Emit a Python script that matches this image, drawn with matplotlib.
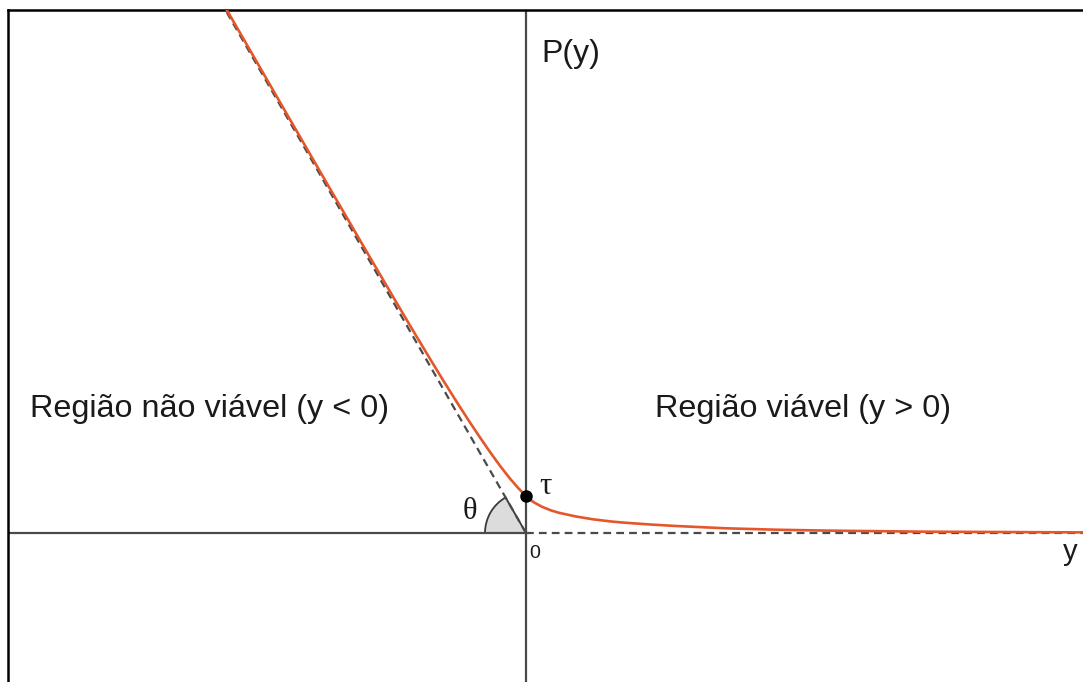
import numpy as np
import matplotlib
matplotlib.use('Agg')
import matplotlib.pyplot as plt
from matplotlib.patches import Wedge

# penalty curve P(y) (1 unit = 100 px)
y_vals = [-3.10, -2.50, -2.00, -1.60, -1.28, -1.12, -0.96, -0.86, -0.76, -0.66, -0.56,
          -0.46, -0.36, -0.26, -0.16, -0.08, -0.04, 0.00,
          0.04, 0.08, 0.16, 0.25, 0.33, 0.50, 0.67, 0.85, 1.00, 1.25, 1.50,
          2.00, 2.50, 3.00, 4.00, 5.60]
p_vals = [5.418, 4.377, 3.512, 2.824, 2.278, 2.008, 1.742, 1.578, 1.417, 1.259, 1.105,
          0.955, 0.810, 0.672, 0.544, 0.452, 0.410, 0.370,
          0.335, 0.306, 0.262, 0.226, 0.202, 0.165, 0.137, 0.115, 0.102, 0.0845, 0.070,
          0.047, 0.033, 0.024, 0.013, 0.006]

tau = 0.37          # P(0)
slope = 1.74        # asymptote for y < 0 : P = -slope * y
xmin, xmax = -5.18, 5.57
ymin, ymax = -1.49, 5.23

fig = plt.figure(figsize=(10.83, 6.82), dpi=100)
ax = fig.add_axes([8 / 1083, 0, 1075 / 1083, 672 / 682])
ax.set_xlim(xmin, xmax)
ax.set_ylim(ymin, ymax)
ax.set_xticks([])
ax.set_yticks([])
for s in ['right', 'bottom']:
    ax.spines[s].set_visible(False)
for s in ['left', 'top']:
    ax.spines[s].set_linewidth(1.8)
    ax.spines[s].set_color('black')

axcol = '#4a4a4a'
# axes lines
ax.plot([0, 0], [ymin, ymax], color=axcol, lw=1.6, zorder=2)
ax.plot([xmin, 0], [0, 0], color=axcol, lw=1.6, zorder=2)
ax.plot([0, xmax], [0, 0], color=axcol, lw=1.6, dashes=(3.5, 2.3), zorder=2)

# asymptote
ya = -ymax / slope - 0.2
ax.plot([0, ya], [0, -slope * ya], color=axcol, lw=1.6, dashes=(3.5, 2.3), zorder=2)

# angle theta
theta = np.degrees(np.arctan(slope))
w = Wedge((0, 0), 0.41, 180 - theta, 180, facecolor='#dcdcdc', edgecolor='#3a3a3a', lw=1.3, zorder=1)
ax.add_patch(w)

# curve
ax.plot(y_vals, p_vals, color='#e4572a', lw=1.9, zorder=3, solid_joinstyle='round', solid_capstyle='round')
ax.plot([0], [tau], 'o', color='black', ms=8, zorder=4)

sans = 'Liberation Sans'
serif = 'Liberation Serif'
ax.text(-4.96, 1.16, 'Região não viável (y < 0)', fontsize=23.3, family=sans, va='baseline', ha='left', color='#1a1a1a')
ax.text(1.29, 1.16, 'Região viável (y > 0)', fontsize=23.3, family=sans, va='baseline', ha='left', color='#1a1a1a')
ax.text(0.15, 4.71, 'P(y)', fontsize=23, family=sans, va='baseline', ha='left', color='#1a1a1a')
ax.text(5.37, -0.27, 'y', fontsize=21, family=sans, va='baseline', ha='left', color='#1a1a1a')
ax.text(0.035, -0.25, '0', fontsize=14, family=sans, va='baseline', ha='left', color='#1a1a1a')
ax.text(-0.63, 0.14, 'θ', fontsize=22, family=serif, va='baseline', ha='left', color='#1a1a1a')
ax.text(0.13, 0.39, 'τ', fontsize=22, family=serif, va='baseline', ha='left', color='#1a1a1a')

fig.savefig('out.png', dpi=100)
